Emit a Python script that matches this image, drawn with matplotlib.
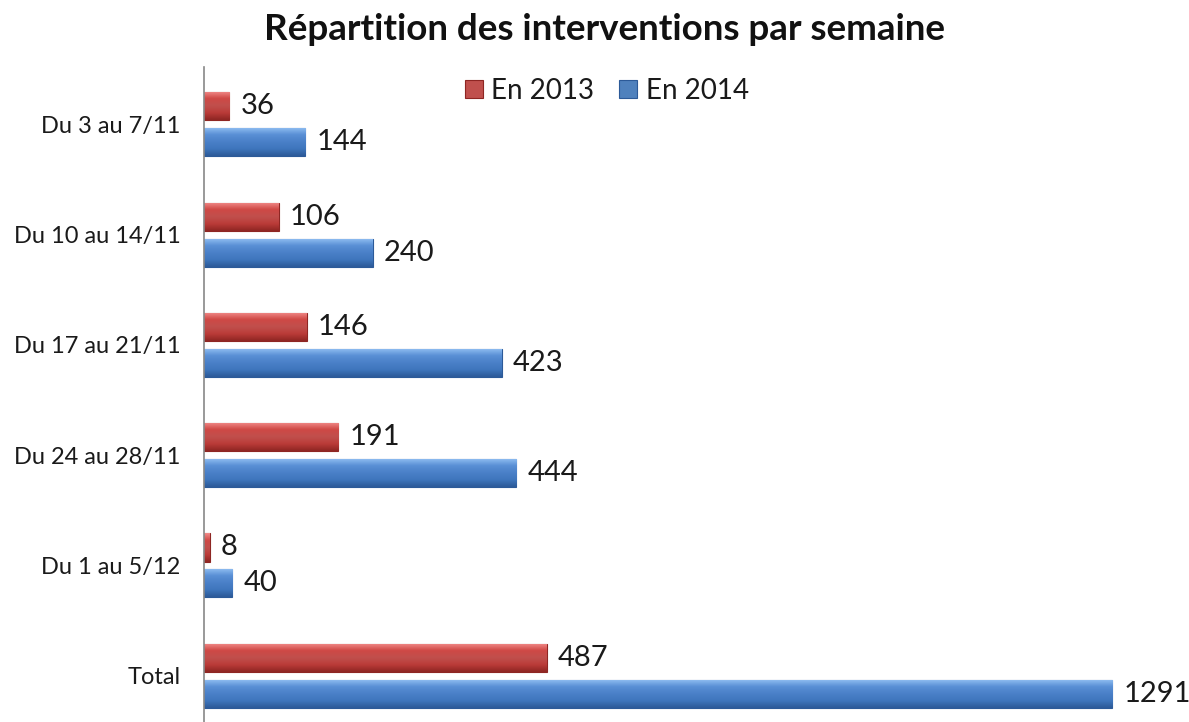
import matplotlib
matplotlib.use("Agg")
import matplotlib.pyplot as plt
import numpy as np
from matplotlib.colors import LinearSegmentedColormap

categories = ["Du 3 au 7/11", "Du 10 au 14/11", "Du 17 au 21/11",
              "Du 24 au 28/11", "Du 1 au 5/12", "Total"]
values_2013 = [36, 106, 146, 191, 8, 487]
values_2014 = [144, 240, 423, 444, 40, 1291]
series_names = ["En 2013", "En 2014"]
title = "Répartition des interventions par semaine"

plt.rcParams['font.family'] = ['Lato', 'DejaVu Sans']

fig = plt.figure(figsize=(11.89, 7.22), dpi=100)
ax = fig.add_axes([204/1189, 0.0, 1 - 204/1189, 1 - 67/722])

y = np.arange(len(categories))
h = 0.255
off = 0.163

red_cmap = LinearSegmentedColormap.from_list("r", ["#f28c8a", "#cf4845", "#c0504d", "#bb3b38", "#8e2623"])
blue_cmap = LinearSegmentedColormap.from_list("b", ["#92c0f2", "#5a90d6", "#4a80c8", "#3f76bd", "#2c5a98"])

grad = np.linspace(0, 1, 64).reshape(-1, 1)

def draw(vals, ypos, cmap, base, edge, label):
    bars = ax.barh(ypos, vals, height=h, color=base, edgecolor=edge, linewidth=0.8,
                   label=label, zorder=2)
    for b in bars:
        x0, y0 = b.get_x(), b.get_y()
        w, hh = b.get_width(), b.get_height()
        im = ax.imshow(grad, cmap=cmap, aspect="auto", extent=(x0, x0 + w, y0 + hh, y0),
                       zorder=2.5, interpolation="bicubic")
        im.set_clip_path(b)
    for v, yy in zip(vals, ypos):
        ax.text(v + 16, yy, str(v), va="center", ha="left", fontsize=21, color="#1a1a1a",
                zorder=4)
    return bars

draw(values_2013, y - off, red_cmap, "#c0504d", "#8e2623", series_names[0])
draw(values_2014, y + off, blue_cmap, "#4f81bd", "#2c5a98", series_names[1])

ax.set_xlim(0, 1400)
ax.set_ylim(len(categories) - 1 + 0.42, -0.52)
ax.set_yticks(y)
ax.set_yticklabels(categories, fontsize=17, color="#1a1a1a")
ax.tick_params(axis="y", length=0, pad=17)
ax.set_xticks([])
for s in ["top", "right", "bottom"]:
    ax.spines[s].set_visible(False)
ax.spines["left"].set_color("#888888")
ax.spines["left"].set_linewidth(1.2)

leg = ax.legend(loc="upper center", bbox_to_anchor=(0.409, 1.022), ncol=2, frameon=False,
                fontsize=20, handlelength=0.65, handleheight=0.65, handletextpad=0.3,
                columnspacing=0.9)
for t in leg.get_texts():
    t.set_color("#1a1a1a")

fig.text(605/1189, 1 - 30/722, title, ha="center", va="center", fontsize=26.5,
         fontweight="bold", color="#111111")

fig.savefig("out.png", dpi=100)
